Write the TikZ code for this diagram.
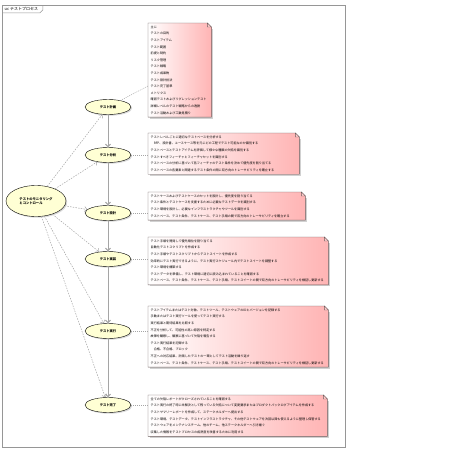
\documentclass[tikz,border=0pt]{standalone}
\usepackage{fontspec}
\newfontfamily\jp{Noto Sans CJK JP}
\usetikzlibrary{arrows.meta,backgrounds,calc,shapes.geometric,shadows}
\definecolor{notepink}{RGB}{255,180,180}
\definecolor{noteedge}{RGB}{110,95,95}
\definecolor{ucyellow}{RGB}{255,255,212}
\definecolor{framegray}{RGB}{150,150,150}
\definecolor{arrowgray}{RGB}{165,165,165}
\newcommand\drawnote[1]{%
  \fill[black!18] ([shift={(1.5pt,-1.5pt)}]#1.south west) rectangle ([shift={(1.5pt,-5.5pt)}]#1.north east);
  \shade[left color=white,right color=notepink,draw=noteedge,line width=0.4pt]
    (#1.north west) -- ([xshift=-4pt]#1.north east) -- ([yshift=-4pt]#1.north east)
    -- (#1.south east) -- (#1.south west) -- cycle;
  \filldraw[fill=notepink!70!white,draw=noteedge,line width=0.4pt]
    ([xshift=-4pt]#1.north east) -- ([xshift=-4pt,yshift=-4pt]#1.north east) -- ([yshift=-4pt]#1.north east) -- cycle;
}
\begin{document}
\begin{tikzpicture}[x=1pt,y=-1pt,
  uc/.style={ellipse, draw=black, line width=0.4pt, fill=ucyellow,
    minimum width=46pt, minimum height=15pt, inner sep=0pt,
    drop shadow={shadow xshift=1.2pt, shadow yshift=-1.2pt, fill=black!30},
    font=\jp\bfseries\fontsize{3.3}{4.2}\selectfont},
  notebox/.style={anchor=north west, text width=#1, align=left,
    inner xsep=2.5pt, inner ysep=2.5pt, font=\jp\fontsize{3.1}{6.6}\selectfont},
  flow/.style={draw=arrowgray, line width=1pt, -{Straight Barb[length=2.5pt,width=5pt]}},
  dep/.style={draw=arrowgray, dash pattern=on 1.5pt off 1.2pt, line width=0.5pt,
    -{Straight Barb[length=2.5pt,width=5pt,line width=0.5pt]}},
  link/.style={draw=arrowgray, dash pattern=on 1pt off 1pt, line width=0.5pt}
]
\useasboundingbox (0,0) rectangle (453,453);

% title
\node[anchor=north west, inner xsep=2.5pt, inner ysep=2pt,
  font=\jp\fontsize{4}{5}\selectfont] (title) at (2,5) {uc テストプロセス};

% use cases
\node[uc] (plan) at (108,107) {テスト計画};
\node[uc] (anal) at (108,155) {テスト分析};
\node[uc] (design) at (108,213) {テスト設計};
\node[uc] (impl) at (108,259) {テスト実装};
\node[uc] (exec) at (108,331) {テスト実行};
\node[uc] (done) at (108,405) {テスト完了};
\node[uc, minimum width=60pt, minimum height=31pt, align=left] (mon) at (36,201)
  {テストのモニタリング\\とコントロール};

% notes
\node[notebox=58pt] (n1) at (148,23) {主に\\テストの目的\\テストアイテム\\テスト範囲\\前提と制約\\リスク管理\\テスト戦略\\テスト成果物\\テスト設計技法\\テスト完了基準\\メトリクス\\確認テストおよびリグレッションテスト\\詳細レベルのテスト戦略からの逸脱\\テスト活動および工数見積り};
\node[notebox=146pt] (n2) at (148,133) {テストレベルごとに適切なテストベースを分析する\\
\quad RFP、設計書、ユースケース等を元にどの工程でテスト可能なのか識別する\\
テストベースとテストアイテムを評価して様々な種類の欠陥を識別する\\
テストすべきフィーチャとフィーチャセットを識別する\\
テストベースの分析に基づいて各フィーチャのテスト条件を決めて優先度を割り当てる\\
テストベースの各要素と関連するテスト条件の間に双方向のトレーサビリティを確立する};
\node[notebox=152pt] (n3) at (148,192) {テストケースおよびテストケースのセットを設計し、優先度を割り当てる\\
テスト条件とテストケースを支援するために必要なテストデータを識別する\\
テスト環境を設計し、必要なインフラストラクチャやツールを識別する\\
テストベース、テスト条件、テストケース、テスト手順の間で双方向のトレーサビリティを確立する};
\node[notebox=175pt] (n4) at (148,237) {テスト手順を開発して優先順位を割り当てる\\
自動化テストスクリプトを作成する\\
テスト手順やテストスクリプトからテストスイートを作成する\\
効率的にテスト実行できるように、テスト実行スケジュール内でテストスイートを調整する\\
テスト環境を構築する\\
テストデータを準備し、テスト環境に適切に読み込まれていることを確認する\\
テストベース、テスト条件、テストケース、テスト手順、テストスイートの間で双方向のトレーサビリティを検証し更新する};
\node[notebox=175pt] (n5) at (148,306) {テストアイテムまたはテスト対象、テストツール、テストウェアのIDとバージョンを記録する\\
手動またはテスト実行ツールを使ってテスト実行する\\
実行結果と期待結果を比較する\\
不正を分析して、可能性の高い原因を特定する\\
故障を観察し、観察に基づいて欠陥を報告する\\
テスト実行結果を記録する\\
\quad 合格、不合格、ブロック\\
不正への対応結果、計画したテストの一環としてテスト活動を繰り返す\\
テストベース、テスト条件、テストケース、テスト手順、テストスイートの間で双方向のトレーサビリティを検証し更新する};
\node[notebox=174pt] (n6) at (148,395) {全ての欠陥レポートがクローズされていることを確認する\\
テスト実行の終了時に未解決として残っている欠陥について変更要求またはプロダクトバックログアイテムを作成する\\
テストサマリーレポートを作成して、ステークホルダーへ提出する\\
テスト環境、テストデータ、テストインフラストラクチャ、その他テストウェアを次回以降も使えるように整理し保管する\\
テストウェアをメンテナンスチーム、他のチーム、他ステークホルダーへ引き継ぐ\\
収集した情報をテストプロセスの成熟度を改善するために利用する};

\begin{pgfonlayer}{background}
  \draw[framegray, line width=0.6pt] (2,5) rectangle (345,447);
  \draw[framegray, line width=0.5pt] (title.south west) -- ([xshift=-1pt]title.south east)
    -- ([xshift=2pt,yshift=3pt]title.south east) -- ([xshift=2pt]title.north east);
  \drawnote{n1}\drawnote{n2}\drawnote{n3}\drawnote{n4}\drawnote{n5}\drawnote{n6}
\end{pgfonlayer}

% flow
\draw[flow] (plan) -- (anal);
\draw[flow] (anal) -- (design);
\draw[flow] (design) -- (impl);
\draw[flow] (impl) -- (exec);
\draw[flow] (exec) -- (done);

% monitoring dependencies
\draw[dep] (mon) -- (plan);
\draw[dep] (mon) -- (anal);
\draw[dep] (mon) -- (design);
\draw[dep] (mon) -- (impl);
\draw[dep] (mon) -- (exec);
\draw[dep] (mon) -- (done);

% note links
\draw[link] (plan) -- ($(n1.north west)!0.67!(n1.south west)$);
\draw[link] (anal.east) -- (anal.east -| n2.west);
\draw[link] (design.east) -- (design.east -| n3.west);
\draw[link] (impl.east) -- (impl.east -| n4.west);
\draw[link] (exec.east) -- (exec.east -| n5.west);
\draw[link] (done.east) -- (done.east -| n6.west);
\end{tikzpicture}
\end{document}
